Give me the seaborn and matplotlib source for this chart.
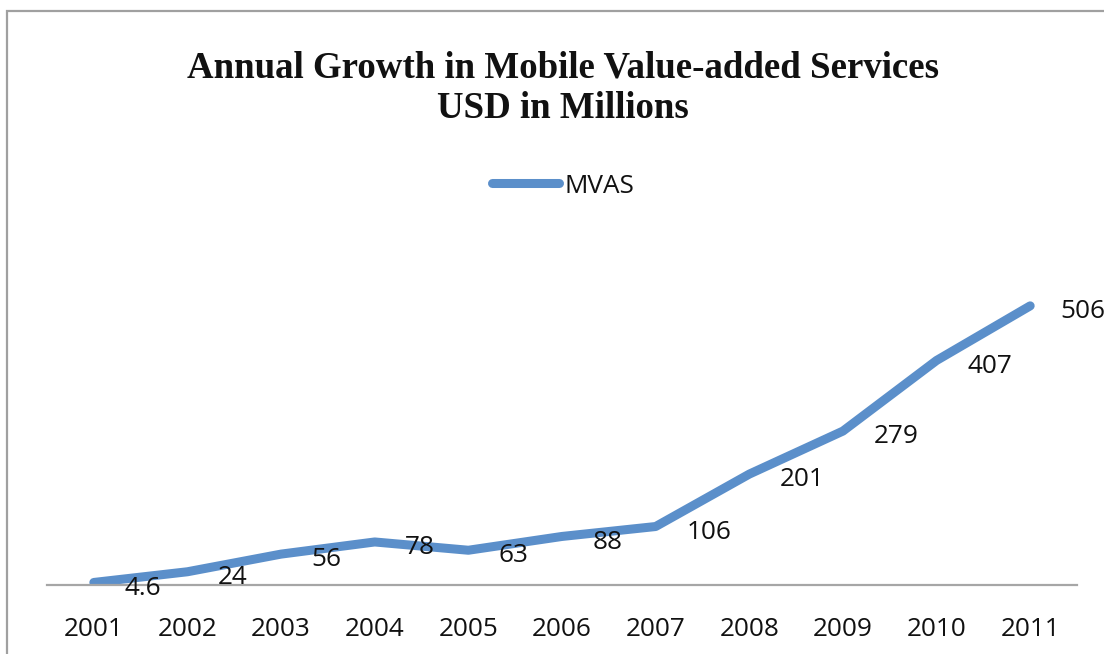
import matplotlib
matplotlib.use("Agg")
import matplotlib.pyplot as plt
from matplotlib.patches import Rectangle
import seaborn as sns
import pandas as pd

# Annual MVAS revenue, USD millions
years = ["2001", "2002", "2003", "2004", "2005", "2006",
         "2007", "2008", "2009", "2010", "2011"]
mvas = [4.6, 24, 56, 78, 63, 88, 106, 201, 279, 407, 506]
labels = ["4.6", "24", "56", "78", "63", "88", "106", "201", "279", "407", "506"]
series_name = "MVAS"

title = "Annual Growth in Mobile Value-added Services\nUSD in Millions"

sns.set_theme(style="white")
plt.rcParams["font.family"] = ["Open Sans", "DejaVu Sans"]

df = pd.DataFrame({"pos": range(len(years)), "value": mvas, "series": series_name})

W, H, DPI = 1104, 654, 100
fig = plt.figure(figsize=(W / DPI, H / DPI), dpi=DPI)

# axes placed in pixel terms
left, right, bottom, top = 47, 1077, 585, 254
ax = fig.add_axes([left / W, 1 - bottom / H, (right - left) / W, (bottom - top) / H])

line_color = "#5B8FCA"
text_color = "#111111"
fs = 18.8
sns.lineplot(data=df, x="pos", y="value", hue="series", palette=[line_color],
             ax=ax, linewidth=6.5, legend=True)
for ln in ax.get_lines():
    ln.set_solid_capstyle("round")
    ln.set_solid_joinstyle("round")

ax.set_xlim(-0.5, len(years) - 0.5)
ax.set_ylim(0, 600)
ax.set_xticks(range(len(years)))
ax.set_xticklabels(years, fontsize=fs, color=text_color)
ax.set_yticks([])
ax.set_xlabel("")
ax.set_ylabel("")
ax.tick_params(axis="x", length=0, pad=23)
for s in ["left", "right", "top"]:
    ax.spines[s].set_visible(False)
ax.spines["bottom"].set_color("#A6A6A6")
ax.spines["bottom"].set_linewidth(1.6)

# data labels to the right of each point
for i, (v, lab) in enumerate(zip(mvas, labels)):
    ax.annotate(lab, (i, v), xytext=(22, -4), textcoords="offset points",
                ha="left", va="center", fontsize=fs, color=text_color,
                annotation_clip=False)

# legend
leg = ax.legend(loc="center", bbox_to_anchor=(563 / W, 1 - 186 / H),
                bbox_transform=fig.transFigure, frameon=False,
                fontsize=fs, handlelength=2.6, handletextpad=0.2)
for h in leg.get_lines():
    h.set_linewidth(6.5)
    h.set_solid_capstyle("round")
for t in leg.get_texts():
    t.set_color(text_color)

# title
fig.text(563 / W, 1 - 88 / H, title, ha="center", va="center",
         fontsize=26.6, fontweight="bold", family="Liberation Serif",
         linespacing=1.22, color=text_color)

# outer chart border
fig.patches.append(Rectangle((7 / W, -0.1), 1.2, 1.1 - 11 / H,
                             transform=fig.transFigure, fill=False,
                             edgecolor="#A0A0A0", linewidth=1.6, zorder=0))

fig.savefig("out.png", dpi=DPI, facecolor="white")
